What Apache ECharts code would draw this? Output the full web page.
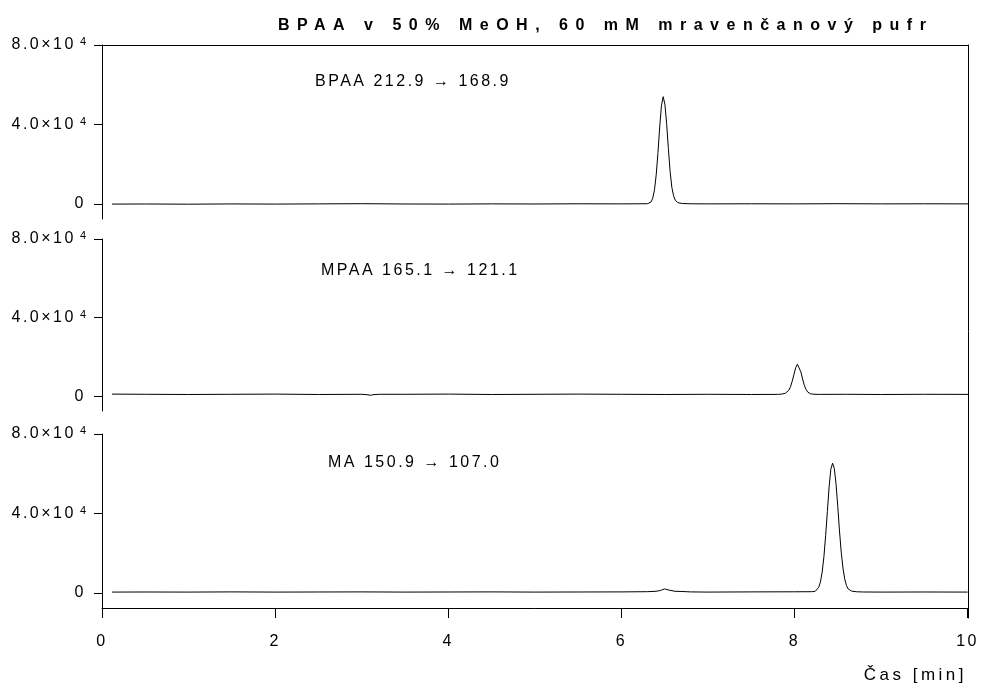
<!DOCTYPE html>
<html>
<head>
<meta charset="utf-8">
<script src="https://cdn.jsdelivr.net/npm/echarts@6/dist/echarts.min.js"></script>
<style>
  html, body { margin: 0; padding: 0; background: #fff; }
  #chart { width: 982px; height: 687px; }
</style>
</head>
<body>
<div id="chart"></div>
<script>
// ---------- data ----------
const chartTitle = 'BPAA v 50% MeOH, 60 mM mravenčanový pufr';
const traceLabels = ['BPAA 212.9 \u2192 168.9', 'MPAA 165.1 \u2192 121.1', 'MA 150.9 \u2192 107.0'];
const xAxisName = 'Čas [min]';
const xTicks = [0, 2, 4, 6, 8, 10];
const yTickValues = [0, 40000, 80000];
const yTickMantissa = ['0', '4.0×10', '8.0×10'];
const yTickExponent = ['', '4', '4'];

// BPAA trace (time [min], intensity)
const tBPAA = [0.115, 0.5, 1.0, 1.5, 2.0, 2.5, 3.0, 3.5, 4.0, 4.5, 5.0, 5.5, 6.0, 6.2, 6.30, 6.34, 6.36, 6.38, 6.40, 6.42, 6.44, 6.46, 6.48, 6.50, 6.52, 6.54, 6.56, 6.58, 6.60, 6.62, 6.65, 6.70, 6.8, 7.0, 7.5, 8.0, 8.5, 9.0, 9.5, 10.0];
const vBPAA = [0, 50, -50, 80, 0, 100, 200, 50, 0, 100, 50, 150, 100, 150, 200, 1070, 3000, 7200, 14900, 26000, 38800, 49400, 54000, 50200, 40500, 28000, 16500, 8500, 4200, 1900, 700, 300, 150, 100, 150, 100, 200, 100, 150, 100];

// MPAA trace
const tMPAA = [0.115, 0.5, 1.0, 1.5, 2.0, 2.5, 3.0, 3.06, 3.10, 3.14, 3.2, 3.5, 4.0, 4.5, 5.0, 5.5, 6.0, 6.5, 7.0, 7.5, 7.80, 7.85, 7.89, 7.91, 7.93, 7.95, 7.97, 7.99, 8.01, 8.03, 8.05, 8.07, 8.09, 8.11, 8.13, 8.15, 8.18, 8.22, 8.3, 8.6, 9.0, 9.5, 10.0];
const vMPAA = [1100, 1000, 900, 1000, 1100, 900, 1000, 800, 500, 850, 1000, 1000, 1100, 900, 1000, 1100, 1000, 900, 1000, 900, 950, 1100, 1500, 2000, 3000, 4800, 7600, 11000, 14500, 16300, 15300, 12400, 8800, 5600, 3400, 2100, 1300, 1000, 950, 1000, 900, 1000, 950];

// MA trace
const tMA = [0.115, 0.5, 1.0, 1.5, 2.0, 2.5, 3.0, 3.5, 4.0, 4.5, 5.0, 5.5, 6.0, 6.3, 6.40, 6.45, 6.50, 6.55, 6.62, 6.7, 6.8, 7.0, 7.5, 8.0, 8.2, 8.24, 8.26, 8.28, 8.30, 8.32, 8.34, 8.36, 8.38, 8.40, 8.42, 8.44, 8.46, 8.48, 8.50, 8.52, 8.54, 8.56, 8.58, 8.60, 8.62, 8.66, 8.72, 8.8, 9.0, 9.5, 10.0];
const vMA = [500, 550, 500, 600, 500, 550, 600, 500, 550, 600, 500, 550, 600, 700, 900, 1300, 2100, 1500, 900, 800, 600, 500, 600, 650, 700, 900, 1500, 2900, 5600, 10600, 18300, 28900, 41000, 53400, 62300, 65300, 62700, 55000, 43600, 31200, 20600, 12600, 7200, 3900, 2100, 1000, 650, 550, 500, 550, 500];

// ---------- letter spacing for canvas text (the reference uses spaced-out type) ----------
(function () {
  const proto = window.CanvasRenderingContext2D && CanvasRenderingContext2D.prototype;
  if (!proto || !('letterSpacing' in proto)) return;
  const d = Object.getOwnPropertyDescriptor(proto, 'font');
  if (!d || !d.set) return;
  function spacingFor(font) {
    const m = /(\d+(?:\.\d+)?)px/.exec(font);
    const size = m ? parseFloat(m[1]) : 12;
    if (/bold|[6-9]00/.test(font)) return '7.5px';
    if (size >= 17) return '3.5px';
    if (size >= 16) return '2.5px';
    return '0px';
  }
  Object.defineProperty(proto, 'font', {
    configurable: true,
    enumerable: d.enumerable,
    get() { return d.get.call(this); },
    set(v) { d.set.call(this, v); try { this.letterSpacing = spacingFor(String(v)); } catch (e) {} }
  });
})();

// ---------- chart ----------
const FONT = '"Liberation Sans", Arial, sans-serif';
const zip = (t, v) => t.map((x, i) => [x, v[i]]);
const traces = [zip(tBPAA, vBPAA), zip(tMPAA, vMPAA), zip(tMA, vMA)];

const gridTops = [45, 239, 434];
const gridHeights = [174, 172, 174];
const labelPos = [[315, 72], [321, 261], [328, 453]];

const grids = gridTops.map((t, i) => ({ left: 102, right: 14, top: t, height: gridHeights[i] }));
grids.push({ left: 102, right: 14, top: 45, height: 573 }); // frame overlay

const xAxes = [0, 1, 2].map(i => ({
  type: 'value', gridIndex: i, min: 0, max: 10, interval: 2,
  show: i === 2,
  position: 'bottom',
  axisLine: { show: true, onZero: false, lineStyle: { color: '#000', width: 1 } },
  axisTick: { show: true, inside: false, length: 10, lineStyle: { color: '#000' } },
  axisLabel: {
    show: true, margin: 24, color: '#000', fontFamily: FONT, fontSize: 16,
    formatter: v => { const i2 = xTicks.indexOf(v); return i2 >= 0 ? String(xTicks[i2]) : ''; }
  },
  splitLine: { show: false }
}));
xAxes.push({
  type: 'value', gridIndex: 3, min: 0, max: 10, position: 'top',
  axisLine: { show: true, onZero: false, lineStyle: { color: '#000', width: 1 } },
  axisTick: { show: false }, axisLabel: { show: false }, splitLine: { show: false }
});

const yAxes = [0, 1, 2].map(i => ({
  type: 'value', gridIndex: i, min: -7500, max: 80000,
  position: 'left',
  axisLine: { show: true, onZero: false, lineStyle: { color: '#000', width: 1 } },
  axisTick: { show: true, inside: false, length: 8, customValues: yTickValues, lineStyle: { color: '#000' } },
  axisLabel: {
    show: true, margin: 16, color: '#000', fontFamily: FONT, fontSize: 16,
    customValues: yTickValues,
    formatter: v => {
      const k = yTickValues.indexOf(v);
      if (k < 0) return '';
      return yTickExponent[k] ? '{b|' + yTickMantissa[k] + '}{sup|' + yTickExponent[k] + '}' : '{b|' + yTickMantissa[k] + '}';
    },
    rich: {
      b: { fontFamily: FONT, fontSize: 16, color: '#000', lineHeight: 17, verticalAlign: 'middle' },
      sup: { fontFamily: FONT, fontSize: 11, color: '#000', lineHeight: 17, verticalAlign: 'top', padding: [0, 0, 0, 4] }
    }
  },
  splitLine: { show: false }
}));
yAxes.push({
  type: 'value', gridIndex: 3, min: 0, max: 1, position: 'right',
  axisLine: { show: true, onZero: false, lineStyle: { color: '#000', width: 1 } },
  axisTick: { show: false }, axisLabel: { show: false }, splitLine: { show: false }
});

const titles = [{
  text: chartTitle, left: 278, top: 14, padding: 0,
  textStyle: { fontFamily: FONT, fontWeight: 'bold', fontSize: 16, color: '#000' }
}];
traceLabels.forEach((s, i) => titles.push({
  text: s, left: labelPos[i][0], top: labelPos[i][1], padding: 0,
  textStyle: { fontFamily: FONT, fontWeight: 'normal', fontSize: 16, color: '#000' }
}));
titles.push({
  text: xAxisName, right: 15, top: 665, padding: 0,
  textStyle: { fontFamily: FONT, fontWeight: 'normal', fontSize: 17, color: '#000' }
});

const chart = echarts.init(document.getElementById('chart'), null, { renderer: 'canvas' });
chart.setOption({
  animation: false,
  backgroundColor: '#fff',
  title: titles,
  grid: grids,
  xAxis: xAxes,
  yAxis: yAxes,
  series: traces.map((d, i) => ({
    type: 'line', xAxisIndex: i, yAxisIndex: i, data: d,
    symbol: 'none', smooth: false,
    lineStyle: { color: '#000', width: 1 }
  }))
});
</script>
</body>
</html>
